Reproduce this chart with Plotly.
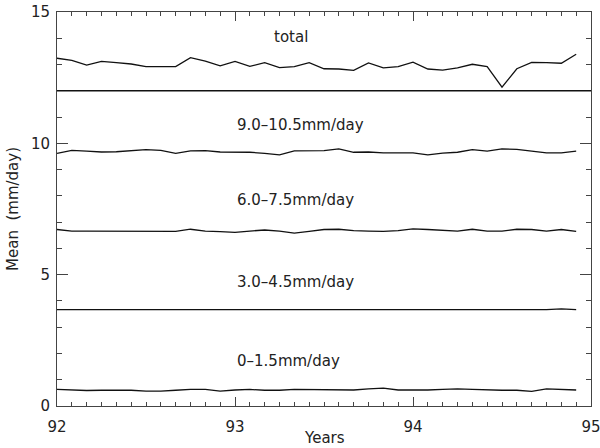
import plotly.graph_objects as go

years = [92 + i / 12 for i in range(36)]

total = [13.24, 13.16, 12.98, 13.12, 13.07, 13.02, 12.92, 12.92, 12.92, 13.26,
         13.13, 12.95, 13.12, 12.93, 13.07, 12.88, 12.92, 13.07, 12.84, 12.83,
         12.78, 13.06, 12.87, 12.92, 13.09, 12.83, 12.79, 12.87, 13.01, 12.92,
         12.14, 12.84, 13.08, 13.07, 13.05, 13.39]
band_9_10 = [9.62, 9.73, 9.70, 9.67, 9.68, 9.71, 9.76, 9.73, 9.62, 9.71,
             9.72, 9.67, 9.66, 9.66, 9.62, 9.56, 9.71, 9.72, 9.72, 9.79,
             9.66, 9.67, 9.64, 9.64, 9.64, 9.56, 9.63, 9.66, 9.76, 9.70,
             9.79, 9.77, 9.70, 9.64, 9.64, 9.70]
band_6_7 = [6.72, 6.66, 6.66, 6.66, 6.66, 6.65, 6.65, 6.65, 6.65, 6.73,
            6.66, 6.64, 6.61, 6.66, 6.70, 6.66, 6.58, 6.65, 6.72, 6.73,
            6.68, 6.66, 6.65, 6.68, 6.74, 6.72, 6.70, 6.66, 6.73, 6.66,
            6.66, 6.73, 6.72, 6.66, 6.72, 6.65]
band_3_4 = [3.67, 3.67, 3.66, 3.67, 3.66, 3.67, 3.67, 3.66, 3.67, 3.66,
            3.67, 3.67, 3.66, 3.67, 3.67, 3.67, 3.66, 3.67, 3.67, 3.67,
            3.67, 3.66, 3.67, 3.67, 3.67, 3.66, 3.67, 3.67, 3.67, 3.67,
            3.67, 3.67, 3.67, 3.67, 3.70, 3.67]
band_0_1 = [0.63, 0.60, 0.59, 0.60, 0.60, 0.60, 0.57, 0.57, 0.60, 0.63,
            0.63, 0.57, 0.61, 0.63, 0.60, 0.60, 0.63, 0.63, 0.63, 0.63,
            0.61, 0.65, 0.68, 0.61, 0.60, 0.61, 0.63, 0.65, 0.63, 0.61,
            0.60, 0.60, 0.56, 0.65, 0.64, 0.61]
total_baseline = 12

labels = ["total", "9.0\u201310.5mm/day", "6.0\u20137.5mm/day",
          "3.0\u20134.5mm/day", "0\u20131.5mm/day"]
label_x = [93.21, 93.0, 93.0, 93.0, 93.0]
label_y = [14.05, 10.70, 7.84, 4.72, 1.71]

FONT = "DejaVu Sans"
INK = "#222222"

fig = go.Figure()
for series in [total, band_9_10, band_6_7, band_3_4, band_0_1]:
    fig.add_trace(go.Scatter(x=years, y=series, mode="lines",
                             line=dict(color="#111111", width=1.3),
                             showlegend=False, hoverinfo="skip"))

fig.add_shape(type="line", xref="paper", x0=0, x1=1, yref="y",
              y0=total_baseline, y1=total_baseline,
              line=dict(color="#111111", width=1.6))

for t, x, y in zip(labels, label_x, label_y):
    fig.add_annotation(x=x, y=y, text=t, showarrow=False, xanchor="left",
                       yanchor="middle", font=dict(family=FONT, size=15, color=INK))

# x-axis title placed as paper annotation
fig.add_annotation(x=0.5, y=-0.081, xref="paper", yref="paper", text="Years",
                   showarrow=False, xanchor="center", yanchor="middle",
                   font=dict(family=FONT, size=15, color=INK))

axis_common = dict(showline=True, linecolor="#444444", linewidth=1,
                   mirror="allticks", ticks="inside", tickcolor="#444444",
                   showgrid=False, zeroline=False, automargin=False,
                   ticklabeloverflow="allow",
                   tickfont=dict(family=FONT, size=15, color=INK))

fig.update_xaxes(range=[92, 95], tick0=92, dtick=1, ticklen=9,
                 minor=dict(dtick=1 / 12, tick0=92, ticks="inside", ticklen=4,
                            tickcolor="#444444", showgrid=False),
                 ticklabelstandoff=7,
                 **axis_common)
fig.update_yaxes(range=[0, 15], tick0=0, dtick=5, ticklen=11,
                 minor=dict(dtick=1, tick0=0, ticks="inside", ticklen=5,
                            tickcolor="#444444", showgrid=False),
                 ticklabelstandoff=3,
                 title=dict(text="Mean  (mm/day)", font=dict(family=FONT, size=15, color=INK),
                            standoff=8),
                 **axis_common)

fig.update_layout(width=600, height=448,
                  margin=dict(l=57, r=9, t=12, b=42),
                  plot_bgcolor="white", paper_bgcolor="white")

fig.write_html("out.html")
